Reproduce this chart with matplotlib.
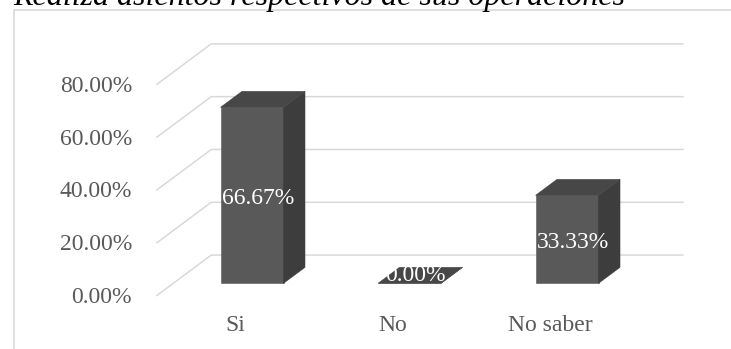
import matplotlib
matplotlib.use("Agg")
import matplotlib.pyplot as plt
from matplotlib.patches import Polygon
from matplotlib.lines import Line2D

# ── Data ──────────────────────────────────────────────────────────────────────
title = "Realiza asientos respectivos de sus operaciones"
categories = ["Si", "No", "No saber"]
values = [66.67, 0.00, 33.33]          # percent
y_ticks = [0, 20, 40, 60, 80]

# ── Style ─────────────────────────────────────────────────────────────────────
FONT = "Liberation Serif"
GRID = "#d9d9d9"
TXT = "#595959"
C_FRONT = "#595959"
C_TOP = "#474747"
C_SIDE = "#3d3d3d"
FS = 17

# oblique "3D" projection: depth 0..1 shifts points right/up
DX, DY = 0.349, 15.5         # in category / percent units
Z0, Z1 = 0.31, 0.70          # bar front / back depth
BAR_W = 0.4

W, H = 731, 349
fig = plt.figure(figsize=(W / 100, H / 100), dpi=100)
ax = fig.add_axes([0, 0, 1, 1])
ax.set_xlim(-1.492, 3.149)
ax.set_ylim(-20.08, 112.12)
ax.axis("off")

x0, x1 = -0.5, len(categories) - 0.5

# walls: side-wall diagonals + back-wall horizontals
for t in y_ticks:
    ax.plot([x0, x0 + DX, x1 + DX], [t, t + DY, t + DY],
            color=GRID, lw=1.1, zorder=1, solid_capstyle="butt")
    ax.text(-0.654, t - 0.6, f"{t:.2f}%", ha="right", va="center",
            fontsize=FS, family=FONT, color=TXT)

# bars
for i, v in enumerate(values):
    l, r = i - BAR_W / 2, i + BAR_W / 2
    front = [(l + Z0 * DX, Z0 * DY), (r + Z0 * DX, Z0 * DY),
             (r + Z0 * DX, v + Z0 * DY), (l + Z0 * DX, v + Z0 * DY)]
    top = [(l + Z0 * DX, v + Z0 * DY), (r + Z0 * DX, v + Z0 * DY),
           (r + Z1 * DX, v + Z1 * DY), (l + Z1 * DX, v + Z1 * DY)]
    side = [(r + Z0 * DX, Z0 * DY), (r + Z1 * DX, Z1 * DY),
            (r + Z1 * DX, v + Z1 * DY), (r + Z0 * DX, v + Z0 * DY)]
    for pts, col in ((front, C_FRONT), (side, C_SIDE), (top, C_TOP)):
        ax.add_patch(Polygon(pts, closed=True, facecolor=col,
                             edgecolor=col, lw=0.4, zorder=3))
    ly = max(v / 2 + Z0 * DY - 1.2, (Z0 + Z1) / 2 * DY)
    ax.text(i + 0.145, ly, f"{v:.2f}%", ha="center", va="center",
            fontsize=FS, family=FONT, color="white", zorder=5)
    ax.text(i, -11, categories[i], ha="center", va="center",
            fontsize=FS, family=FONT, color=TXT)

# chart border (only left/top visible in crop)
bx, by = 13.5 / W, 1 - 10 / H
fig.add_artist(Line2D([bx, bx, 1.01], [-0.01, by, by], transform=fig.transFigure,
                      color=GRID, lw=1.2))

# title, mostly cut off at the top as in the source
fig.text(13 / W, 1 - 5.5 / H, title, ha="left", va="baseline",
         fontsize=23, family=FONT, style="italic", color="black")

fig.savefig("out.png", dpi=100)
